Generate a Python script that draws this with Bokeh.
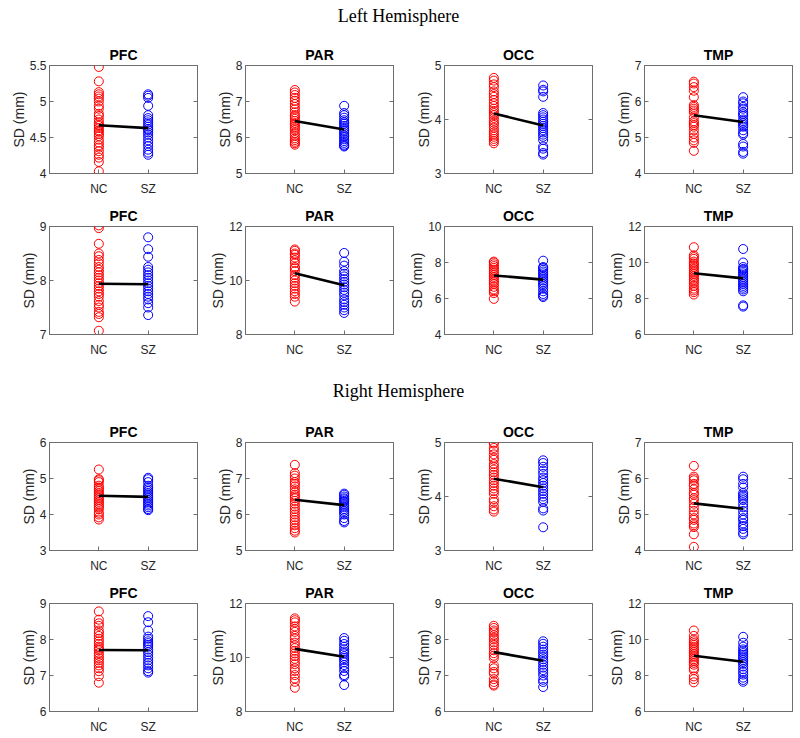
from bokeh.plotting import figure
from bokeh.models import Range1d, FixedTicker, LinearAxis, Label
from bokeh.layouts import column, row
from bokeh.embed import file_html
from bokeh.resources import INLINE

REGIONS = ["PFC", "PAR", "OCC", "TMP"]
GROUPS = ["NC", "SZ"]
SECTION_TITLES = ["Left Hemisphere", "Right Hemisphere"]
Y_LABEL = "SD (mm)"

# ---------------- Left hemisphere, upper row ----------------
L1_PFC_NC = [5.48, 5.28, 5.13, 5.10, 5.07, 5.04, 5.00, 4.94, 4.90, 4.83, 4.80, 4.75, 4.71, 4.68, 4.66,
             4.63, 4.60, 4.58, 4.55, 4.52, 4.47, 4.43, 4.39, 4.36, 4.31, 4.26, 4.22, 4.16, 4.03]
L1_PFC_SZ = [5.10, 5.08, 5.05, 4.94, 4.81, 4.77, 4.74, 4.71, 4.68, 4.65, 4.62, 4.60, 4.57, 4.54, 4.50,
             4.46, 4.42, 4.38, 4.33, 4.29, 4.26]
L1_PAR_NC = [7.32, 7.25, 7.18, 7.10, 7.02, 6.93, 6.85, 6.78, 6.70, 6.62, 6.58, 6.52, 6.46, 6.40, 6.35,
             6.30, 6.25, 6.20, 6.12, 6.05, 5.98, 5.93, 5.88, 5.84, 5.80]
L1_PAR_SZ = [6.88, 6.68, 6.62, 6.55, 6.48, 6.42, 6.38, 6.32, 6.27, 6.22, 6.18, 6.12, 6.06, 6.02, 5.95,
             5.90, 5.85, 5.80, 5.77, 5.75]
L1_OCC_NC = [4.77, 4.72, 4.65, 4.60, 4.52, 4.47, 4.42, 4.36, 4.30, 4.25, 4.20, 4.16, 4.12, 4.08, 4.03,
             3.98, 3.94, 3.90, 3.85, 3.80, 3.76, 3.72, 3.68, 3.64, 3.60, 3.56]
L1_OCC_SZ = [4.63, 4.55, 4.52, 4.42, 4.12, 4.08, 4.04, 4.00, 3.96, 3.92, 3.88, 3.84, 3.80, 3.76, 3.72,
             3.68, 3.62, 3.50, 3.46, 3.38, 3.35]
L1_TMP_NC = [6.55, 6.50, 6.40, 6.30, 6.12, 5.90, 5.85, 5.80, 5.75, 5.70, 5.55, 5.45, 5.40, 5.35, 5.30,
             5.20, 5.10, 5.00, 4.92, 4.85, 4.63]
L1_TMP_SZ = [6.12, 6.00, 5.95, 5.85, 5.80, 5.70, 5.65, 5.60, 5.50, 5.45, 5.40, 5.35, 5.30, 5.20, 5.12,
             5.08, 4.82, 4.75, 4.60, 4.55]
L1_NC_MEAN = [4.67, 6.46, 4.11, 5.62]
L1_SZ_MEAN = [4.63, 6.22, 3.89, 5.43]
L1_YLIM = [(4, 5.5), (5, 8), (3, 5), (4, 7)]
L1_YTICKS = [[4, 4.5, 5, 5.5], [5, 6, 7, 8], [3, 4, 5], [4, 5, 6, 7]]

# ---------------- Left hemisphere, lower row ----------------
L2_PFC_NC = [9.02, 8.97, 8.68, 8.50, 8.45, 8.38, 8.32, 8.25, 8.20, 8.15, 8.10, 8.05, 8.00, 7.95, 7.90,
             7.85, 7.80, 7.75, 7.70, 7.62, 7.55, 7.50, 7.42, 7.38, 7.32, 7.07]
L2_PFC_SZ = [8.80, 8.58, 8.44, 8.25, 8.20, 8.15, 8.10, 8.05, 8.00, 7.95, 7.90, 7.85, 7.80, 7.75, 7.70,
             7.65, 7.58, 7.50, 7.36]
L2_PAR_NC = [11.15, 11.10, 11.00, 10.95, 10.85, 10.75, 10.65, 10.50, 10.45, 10.35, 10.20, 10.10, 10.00,
             9.90, 9.80, 9.70, 9.60, 9.50, 9.40, 9.22]
L2_PAR_SZ = [11.02, 10.70, 10.55, 10.35, 10.25, 10.15, 10.05, 9.95, 9.85, 9.75, 9.65, 9.55, 9.45, 9.30,
             9.20, 9.10, 9.00, 8.90, 8.80]
L2_OCC_NC = [8.05, 8.00, 7.90, 7.80, 7.70, 7.60, 7.50, 7.40, 7.30, 7.20, 7.10, 7.00, 6.90, 6.80, 6.65,
             6.50, 6.40, 6.30, 5.98]
L2_OCC_SZ = [8.10, 7.75, 7.70, 7.60, 7.50, 7.40, 7.30, 7.20, 7.10, 7.00, 6.90, 6.80, 6.70, 6.55, 6.40,
             6.25, 6.15, 6.08]
L2_TMP_NC = [10.85, 10.40, 10.30, 10.20, 10.05, 9.95, 9.85, 9.75, 9.65, 9.55, 9.45, 9.35, 9.25, 9.15,
             9.05, 8.95, 8.85, 8.70, 8.55, 8.45, 8.35, 8.22]
L2_TMP_SZ = [10.75, 10.00, 9.75, 9.65, 9.60, 9.50, 9.40, 9.30, 9.20, 9.10, 9.00, 8.90, 8.80, 8.70, 8.60,
             8.50, 8.40, 7.62, 7.55]
L2_NC_MEAN = [7.94, 10.27, 7.28, 9.40]
L2_SZ_MEAN = [7.93, 9.82, 7.05, 9.12]
L2_YLIM = [(7, 9), (8, 12), (4, 10), (6, 12)]
L2_YTICKS = [[7, 8, 9], [8, 10, 12], [4, 6, 8, 10], [6, 8, 10, 12]]

# ---------------- Right hemisphere, upper row ----------------
R1_PFC_NC = [5.25, 4.98, 4.95, 4.90, 4.80, 4.75, 4.70, 4.65, 4.60, 4.55, 4.50, 4.45, 4.40, 4.35, 4.30,
             4.25, 4.20, 4.15, 4.05, 4.00, 3.92, 3.86]
R1_PFC_SZ = [5.02, 4.98, 4.90, 4.80, 4.75, 4.70, 4.65, 4.60, 4.55, 4.50, 4.45, 4.40, 4.35, 4.30, 4.25,
             4.20, 4.15, 4.12]
R1_PAR_NC = [7.38, 7.15, 7.08, 7.00, 6.90, 6.85, 6.78, 6.70, 6.62, 6.55, 6.50, 6.45, 6.38, 6.30, 6.22,
             6.15, 6.08, 6.00, 5.92, 5.85, 5.78, 5.70, 5.62, 5.55, 5.50]
R1_PAR_SZ = [6.58, 6.55, 6.50, 6.45, 6.42, 6.38, 6.35, 6.30, 6.25, 6.20, 6.15, 6.10, 6.05, 6.00, 5.90,
             5.82, 5.78]
R1_OCC_NC = [5.00, 4.98, 4.90, 4.85, 4.78, 4.72, 4.68, 4.60, 4.55, 4.50, 4.45, 4.40, 4.35, 4.30, 4.25,
             4.20, 4.15, 4.10, 4.05, 3.95, 3.90, 3.82, 3.76, 3.72]
R1_OCC_SZ = [4.67, 4.62, 4.55, 4.48, 4.42, 4.35, 4.30, 4.25, 4.20, 4.15, 4.10, 4.05, 4.00, 3.95, 3.90,
             3.78, 3.74, 3.43]
R1_TMP_NC = [6.35, 6.05, 6.00, 5.95, 5.85, 5.80, 5.70, 5.60, 5.55, 5.45, 5.40, 5.30, 5.20, 5.10, 5.00,
             4.90, 4.85, 4.75, 4.70, 4.65, 4.45, 4.10]
R1_TMP_SZ = [6.05, 5.98, 5.85, 5.75, 5.60, 5.55, 5.50, 5.45, 5.40, 5.30, 5.20, 5.10, 5.00, 4.90, 4.85,
             4.75, 4.68, 4.60, 4.50, 4.45]
R1_NC_MEAN = [4.52, 6.41, 4.33, 5.31]
R1_SZ_MEAN = [4.49, 6.26, 4.17, 5.16]
R1_YLIM = [(3, 6), (5, 8), (3, 5), (4, 7)]
R1_YTICKS = [[3, 4, 5, 6], [5, 6, 7, 8], [3, 4, 5], [4, 5, 6, 7]]

# ---------------- Right hemisphere, lower row ----------------
R2_PFC_NC = [8.78, 8.55, 8.45, 8.38, 8.25, 8.18, 8.10, 8.02, 7.95, 7.88, 7.80, 7.75, 7.70, 7.62, 7.55,
             7.48, 7.42, 7.35, 7.28, 7.20, 7.12, 6.98, 6.80]
R2_PFC_SZ = [8.65, 8.48, 8.25, 8.08, 8.02, 7.95, 7.90, 7.85, 7.80, 7.72, 7.65, 7.58, 7.50, 7.42, 7.35,
             7.28, 7.20, 7.12, 7.08]
R2_PAR_NC = [11.45, 11.38, 11.30, 11.15, 11.05, 10.95, 10.80, 10.70, 10.55, 10.45, 10.35, 10.25, 10.15,
             10.05, 9.95, 9.85, 9.75, 9.60, 9.50, 9.35, 9.22, 9.10, 8.88]
R2_PAR_SZ = [10.72, 10.62, 10.50, 10.40, 10.30, 10.22, 10.15, 10.05, 9.98, 9.90, 9.82, 9.72, 9.62, 9.50,
             9.35, 9.30, 8.98]
R2_OCC_NC = [8.38, 8.32, 8.25, 8.20, 8.12, 8.05, 8.00, 7.92, 7.85, 7.78, 7.70, 7.62, 7.55, 7.48, 7.28,
             7.20, 7.10, 7.05, 6.90, 6.82, 6.75, 6.72]
R2_OCC_SZ = [7.95, 7.88, 7.80, 7.72, 7.65, 7.58, 7.52, 7.45, 7.38, 7.30, 7.22, 7.15, 7.08, 7.00, 6.88,
             6.82, 6.68]
R2_TMP_NC = [10.50, 10.20, 10.00, 9.90, 9.80, 9.70, 9.60, 9.50, 9.40, 9.30, 9.20, 9.10, 9.00, 8.90, 8.80,
             8.70, 8.60, 8.40, 8.30, 7.95, 7.80, 7.62]
R2_TMP_SZ = [10.15, 9.82, 9.60, 9.45, 9.35, 9.25, 9.15, 9.05, 8.95, 8.85, 8.75, 8.65, 8.50, 8.35, 8.20,
             8.05, 7.88, 7.75, 7.65]
R2_NC_MEAN = [7.71, 10.32, 7.65, 9.10]
R2_SZ_MEAN = [7.70, 10.03, 7.41, 8.76]
R2_YLIM = [(6, 9), (8, 12), (6, 9), (6, 12)]
R2_YTICKS = [[6, 7, 8, 9], [8, 10, 12], [6, 7, 8, 9], [6, 8, 10, 12]]

ROWS = [
    dict(nc=[L1_PFC_NC, L1_PAR_NC, L1_OCC_NC, L1_TMP_NC], sz=[L1_PFC_SZ, L1_PAR_SZ, L1_OCC_SZ, L1_TMP_SZ],
         mnc=L1_NC_MEAN, msz=L1_SZ_MEAN, ylim=L1_YLIM, yticks=L1_YTICKS),
    dict(nc=[L2_PFC_NC, L2_PAR_NC, L2_OCC_NC, L2_TMP_NC], sz=[L2_PFC_SZ, L2_PAR_SZ, L2_OCC_SZ, L2_TMP_SZ],
         mnc=L2_NC_MEAN, msz=L2_SZ_MEAN, ylim=L2_YLIM, yticks=L2_YTICKS),
    dict(nc=[R1_PFC_NC, R1_PAR_NC, R1_OCC_NC, R1_TMP_NC], sz=[R1_PFC_SZ, R1_PAR_SZ, R1_OCC_SZ, R1_TMP_SZ],
         mnc=R1_NC_MEAN, msz=R1_SZ_MEAN, ylim=R1_YLIM, yticks=R1_YTICKS),
    dict(nc=[R2_PFC_NC, R2_PAR_NC, R2_OCC_NC, R2_TMP_NC], sz=[R2_PFC_SZ, R2_PAR_SZ, R2_OCC_SZ, R2_TMP_SZ],
         mnc=R2_NC_MEAN, msz=R2_SZ_MEAN, ylim=R2_YLIM, yticks=R2_YTICKS),
]

SANS = "Liberation Sans"
SERIF = "Liberation Serif"
AX_COLOR = "#6e6e6e"
TXT_COLOR = "#262626"
NC_COLOR = "#ff0000"
SZ_COLOR = "#0000ff"

FRAME_W = 148
FRAME_H = 108
BORDER_LEFT = [49, 44, 44, 44]
BORDER_RIGHT = [4, 7, 8, 3]
TOTAL_W = sum(BORDER_LEFT) + sum(BORDER_RIGHT) + 4 * FRAME_W


def fmt(t):
    return ("%g" % t)


def make_panel(title, nc, sz, mnc, msz, ylim, yticks, col):
    p = figure(title=title, frame_width=FRAME_W, frame_height=FRAME_H,
               x_range=Range1d(0, 3), y_range=Range1d(*ylim),
               toolbar_location=None, output_backend="svg",
               min_border_left=BORDER_LEFT[col], min_border_right=BORDER_RIGHT[col],
               min_border_top=27, min_border_bottom=26)
    p.title.text_font = SANS
    p.title.text_font_size = "14px"
    p.title.text_font_style = "bold"
    p.title.text_color = "black"
    p.title.align = "center"
    p.title.standoff = 6
    p.xgrid.visible = False
    p.ygrid.visible = False
    p.outline_line_color = AX_COLOR
    p.outline_line_width = 1
    p.background_fill_color = "white"
    p.border_fill_color = "white"

    xpos = {g: i + 1 for i, g in enumerate(GROUPS)}
    p.xaxis.ticker = FixedTicker(ticks=list(xpos.values()), minor_ticks=[])
    p.xaxis.major_label_overrides = {v: k for k, v in xpos.items()}
    p.yaxis.ticker = FixedTicker(ticks=yticks, minor_ticks=[])
    p.yaxis.major_label_overrides = {t: fmt(t) for t in yticks}
    p.yaxis.axis_label = Y_LABEL
    for ax in (p.xaxis[0], p.yaxis[0]):
        ax.major_tick_in = 4
        ax.major_tick_out = 0
        ax.minor_tick_line_color = None
        ax.axis_line_color = AX_COLOR
        ax.major_tick_line_color = AX_COLOR
        ax.major_label_text_font = SANS
        ax.major_label_text_font_size = "12px"
        ax.major_label_text_color = TXT_COLOR
    p.yaxis.major_label_standoff = 3
    p.xaxis.major_label_standoff = 8
    p.yaxis.axis_label_text_font = SANS
    p.yaxis.axis_label_text_font_size = "14px"
    p.yaxis.axis_label_text_font_style = "normal"
    p.yaxis.axis_label_text_color = TXT_COLOR
    p.yaxis.axis_label_standoff = 0

    rax = LinearAxis(ticker=FixedTicker(ticks=yticks, minor_ticks=[]),
                     major_tick_in=4, major_tick_out=0, major_label_text_font_size="0px",
                     major_label_text_color=None,
                     minor_tick_line_color=None, axis_line_color=AX_COLOR,
                     major_tick_line_color=AX_COLOR, major_label_standoff=0)
    p.add_layout(rax, "right")

    p.scatter(x=[xpos["NC"]] * len(nc), y=nc, marker="circle", size=9,
              fill_color=None, line_color=NC_COLOR, line_width=1)
    p.scatter(x=[xpos["SZ"]] * len(sz), y=sz, marker="circle", size=9,
              fill_color=None, line_color=SZ_COLOR, line_width=1)
    p.line(x=[xpos["NC"], xpos["SZ"]], y=[mnc, msz], line_color="black", line_width=2.6)
    return p


def make_header(text, height, y_from_bottom):
    h = figure(width=TOTAL_W, height=height, x_range=Range1d(0, 1), y_range=Range1d(0, 1),
               x_axis_location=None, y_axis_location=None, toolbar_location=None,
               output_backend="svg", min_border=0)
    h.outline_line_color = None
    h.xgrid.visible = False
    h.ygrid.visible = False
    h.add_layout(Label(x=398, y=y_from_bottom, x_units="screen", y_units="screen",
                       text=text, text_align="center", text_baseline="middle",
                       text_font=SERIF, text_font_size="18px", text_color="black"))
    return h


rows_out = []
for ri, rd in enumerate(ROWS):
    figs = []
    for ci, reg in enumerate(REGIONS):
        figs.append(make_panel(reg, rd["nc"][ci], rd["sz"][ci], rd["mnc"][ci], rd["msz"][ci],
                               rd["ylim"][ci], rd["yticks"][ci], ci))
    rows_out.append(row(*figs, spacing=0))

header1 = make_header(SECTION_TITLES[0], 38, 23)
header2 = make_header(SECTION_TITLES[1], 55, 25)

layout = column(header1, rows_out[0], rows_out[1], header2, rows_out[2], rows_out[3], spacing=0)

with open("out.html", "w") as f:
    f.write(file_html(layout, INLINE))
